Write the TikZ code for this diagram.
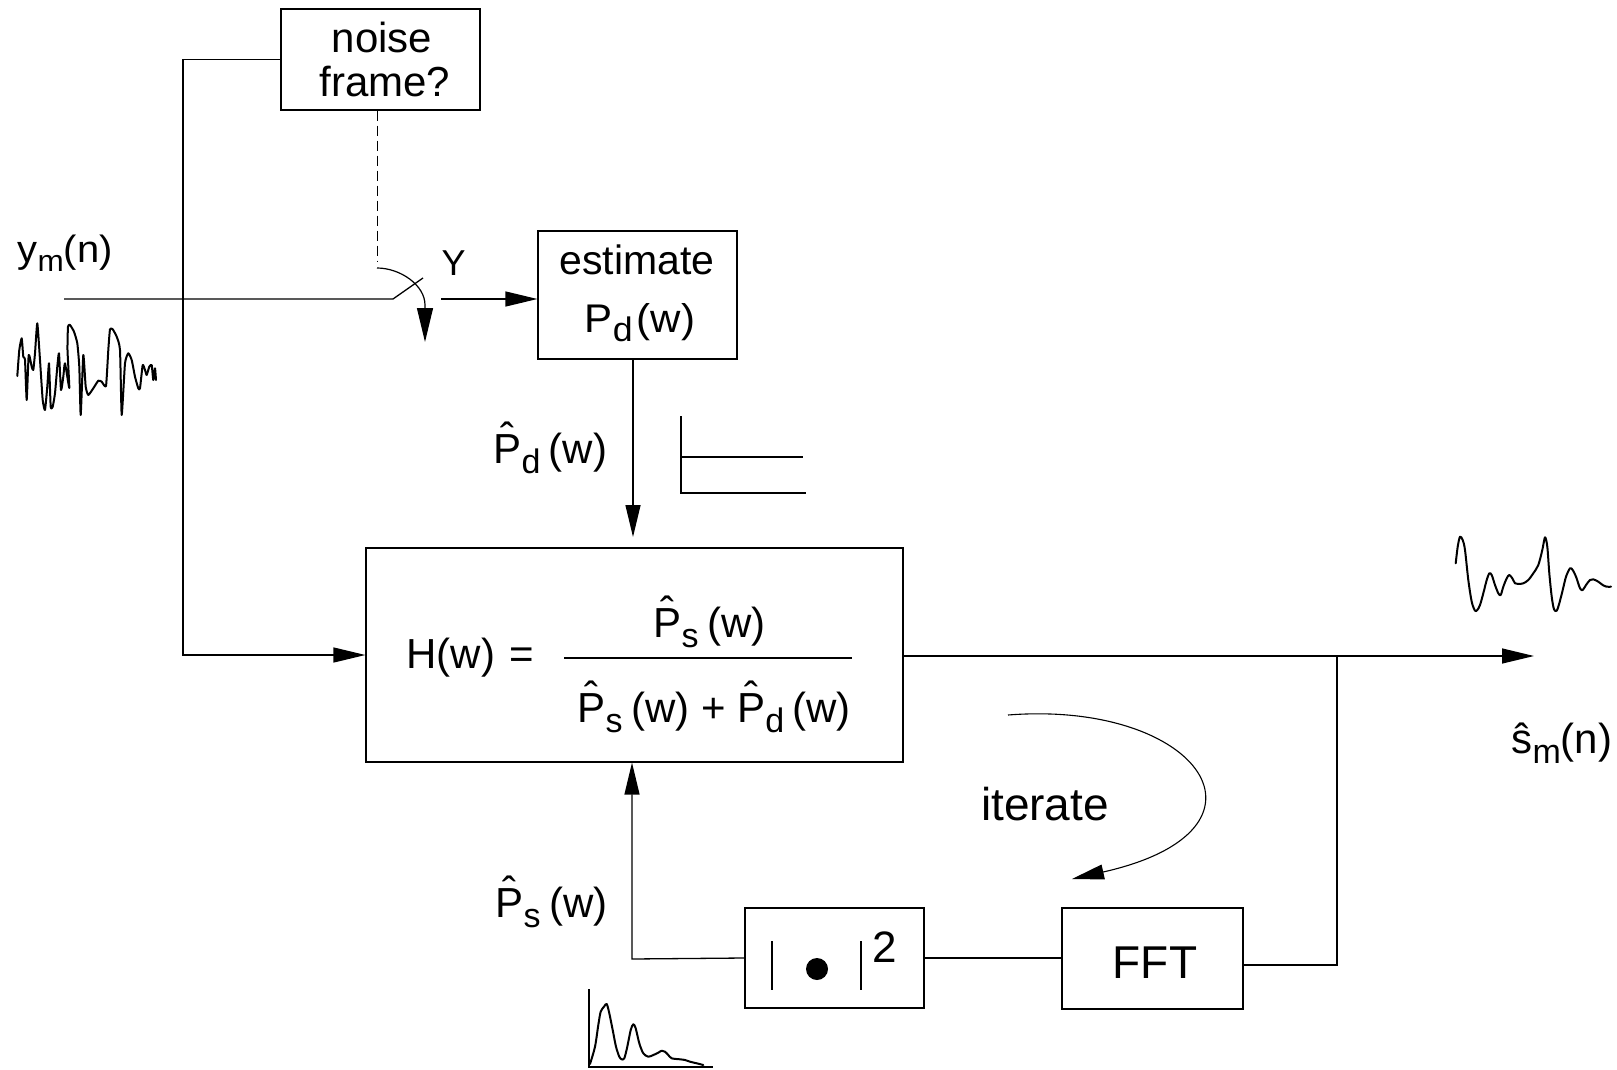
\documentclass[tikz,border=0pt]{standalone}
\usepackage{fontspec}
\setmainfont{Liberation Sans}
\usepackage{graphicx}
\usetikzlibrary{arrows.meta,fit,calc}
\newcommand{\hatP}{\leavevmode\rlap{\kern0.17em\raisebox{0.24em}{ˆ}}P}
\newcommand{\sbs}[2]{\raisebox{-0.24em}{\fontsize{#1}{#1}\selectfont #2}}
\newcommand{\Plab}[2]{\hatP\sbs{#1}{#2}\kern0.2em(w)}
\begin{document}
\begin{tikzpicture}[x=0.5pt,y=-0.5pt,line width=0.65pt,
  box/.style={draw,inner sep=0pt,line width=0.6pt},
  arr/.style={-{Triangle[length=16pt,width=7.5pt]}},
  wave/.style={line width=1pt,line join=round,line cap=round},
  fs/.style={font=\fontsize{#1}{#1}\selectfont},
  lbl/.style={inner sep=0pt,anchor=base west},
  clbl/.style={inner sep=0pt,anchor=base}]
\useasboundingbox (0,0) rectangle (1617,1070);

% boxes
\node[box,fit={(281,9)(480,110)}] (noise) {};
\node[box,fit={(538,231)(737,359)}] (est) {};
\node[box,fit={(366,548)(903,762)}] (H) {};
\node[box,fit={(745,908)(924,1008)}] (sq) {};
\node[box,fit={(1062,908)(1243,1009)}] (fft) {};

% box texts
\node[clbl,fs=21] (tnoise) at (382,53) {noise};
\node[clbl,fs=21] (tframe) at (385,97) {frame?};
\node[clbl,fs=20.5] (testim) at (637,274) {estimate};
\node[clbl,fs=20] (tpd) at (640,332) {\scalebox{1.05}[1]{P\sbs{17}{d}\kern0.1em(w)}};
\node[clbl,fs=23] (tfft) at (1155,978) {FFT};
\node[lbl,fs=21] (tH) at (406,668) {H(w)};
\node[clbl,fs=21] (teq) at (522,668) {=};
\node[lbl,fs=21] (tnum) at (653,637) {\Plab{17}{s}};
\node[lbl,fs=21] (tden) at (577,722) {\Plab{17}{s} + \Plab{17}{d}};
\draw[line width=0.6pt] (564,658) -- (852,658);

% |.|^2 contents
\draw[line width=0.8pt] (772,941) -- (772,990) (861,941) -- (861,990);
\fill (817,969) circle[radius=5.5pt];
\node[inner sep=0pt,fs=22] (two) at (885,947) {2};

% labels
\node[lbl,fs=19] (ym) at (17,262) {\scalebox{1.05}[1]{y\sbs{15}{m}(n)}};
\node[lbl,fs=18] (tY) at (441,275) {Y};
\node[lbl,fs=21] (tPd) at (493,463) {\Plab{17}{d}};
\node[lbl,fs=21] (tPs) at (495,917) {\Plab{17}{s}};
\node[lbl,fs=21] (tsm) at (1511,753) {ŝ\sbs{17}{m}(n)};
\node[clbl,fs=23] (titer) at (1045,820) {iterate};

% coordinates
\coordinate (yin) at (64,299);
\coordinate (piv) at (393,299);
\coordinate (blade) at (423,278);
\coordinate (swo) at (441,299);
\coordinate (c1) at (183,655);
\coordinate (dsh) at (377,261);
\coordinate (arcs) at (377,268);
\coordinate (arce) at (425,342);
\coordinate (pdtip) at (633,537);
\coordinate (out) at (1534,656);
\coordinate (tap) at (1337,656);
\coordinate (tapb) at (1337,965);
\coordinate (fb) at (632,959);
\coordinate (its) at (1008,715);
\coordinate (ite) at (1072,879);

% connectors
\draw[arr] (noise.west) -| (c1) -- (H.west |- c1);
\draw (yin) -- (piv) -- (blade);
\draw[arr] (swo) -- (est.west |- swo);
\draw[dashed,dash pattern=on 5pt off 2.5pt,line width=0.5pt] (noise.south -| dsh) -- (dsh);
\draw[-{Triangle[length=17pt,width=8pt]},line width=0.6pt] (arcs) .. controls (400,268) and (425,285) .. (425,305) -- (arce);
\draw[arr] (est.south -| pdtip) -- (pdtip);
\draw[arr] (H.east |- out) -- (out);
\draw (tap) -- (tapb) -- (fft.east |- tapb);
\draw (fft.west |- sq.east) -- (sq.east);
\draw[arr] (sq.west) -- (fb) -- (fb |- H.south);
\draw[arr,line width=0.55pt] (its) .. controls (1200,700) and (1290,830) .. (ite);

% spectrum (top)
\draw[line width=0.9pt] (681,416) -- (681,493) -- (806,493) (681,457) -- (803,457);

% spectrum (bottom)
\draw[line width=0.9pt] (589,989) -- (589,1067) -- (713,1067);
\draw[wave] plot[smooth,tension=0.5] coordinates {(590,1064) (595,1046.7) (598.3,1025) (600.7,1011.7) (604,1006.7) (606.7,1004) (609.3,1013.3) (612.7,1030) (616,1046.7) (619.3,1056.7) (621.7,1059.3) (624.3,1058.3) (627.3,1046.7) (630.7,1030) (633.3,1024.3) (635.7,1028.3) (639.3,1043.3) (643.3,1053.3) (648.3,1056.7) (653.3,1055) (658.3,1052.7) (661.7,1050.7) (665,1051.7) (668.3,1055) (671.7,1058.3) (680,1059.3) (685,1060) (690,1061.7) (696.7,1063.3) (703.3,1065)};

% input waveform
\draw[wave] plot[smooth,tension=0.3] coordinates {(17.3,376) (19.3,350) (21.7,338.3) (23.3,356.7) (25,360) (26.7,400) (28.7,355) (31.7,366.7) (33.3,370) (35,353.3) (37.3,323.3) (40,360) (42.7,400) (45,410) (47.3,386.7) (49,363.3) (50.7,406.7) (52.7,406.7) (55,393.3) (57.3,366.7) (59,353.3) (61,390) (63.3,376.7) (65,363.3) (69.3,388) (67.5,350) (68,326.7) (70,325) (74,331.7) (77.3,343.3) (79.3,366.7) (80.7,415) (83.3,355) (85.7,386.7) (88.3,395) (93.3,388.3) (98.3,380.7) (101.7,381.7) (106,386) (108.3,350) (110,329.3) (112.7,329.3) (116.7,336.7) (120,350) (121.7,415) (125,363.3) (128.3,353.3) (131.7,360) (135,376.7) (138.3,388.3) (140,388.3) (142.7,365) (145,370) (146.7,375) (149.3,366.7) (151.7,365) (153.3,380) (155,368.3) (156,380)};

% output waveform
\draw[wave] plot[smooth,tension=0.5] coordinates {(1455.7,563.3) (1457.7,546.7) (1460,536.7) (1462.7,540) (1465,550) (1468.3,580) (1471.7,601.7) (1475,610.7) (1477.3,610) (1480,605) (1483.3,593.3) (1486.7,580) (1489.3,573.3) (1491.7,575) (1495,585) (1498.3,593.3) (1500.7,595) (1503.3,586.7) (1506.7,578.3) (1509.3,575) (1512.3,578.3) (1515,583.3) (1518.3,584) (1523.3,583.3) (1528.3,580) (1533.3,573.3) (1538.3,565) (1542.3,550) (1545,537.3) (1547.3,546.7) (1549.3,573.3) (1551.7,596.7) (1554,609.3) (1556.7,610.7) (1559.3,603.3) (1562.7,590) (1566,576.7) (1570,568.3) (1572.7,570) (1576,576.7) (1580,588.3) (1582.7,590) (1586,585) (1590,580) (1593.3,579.3) (1598.3,581.7) (1602.7,585) (1606.7,586.7) (1611,586.7)};
\end{tikzpicture}
\end{document}
